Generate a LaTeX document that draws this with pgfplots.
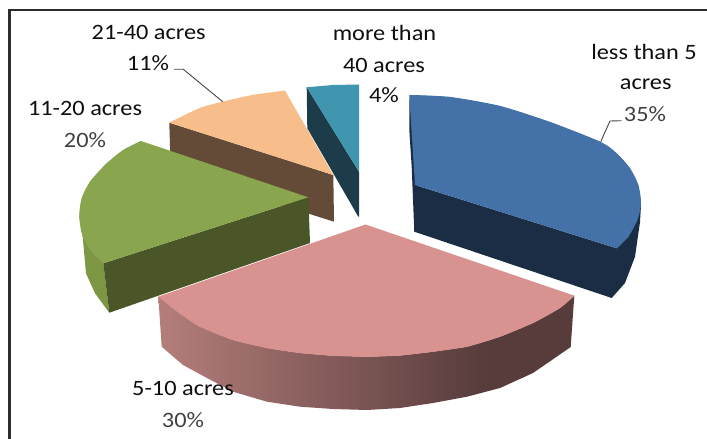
\documentclass[border=0pt]{standalone}
\usepackage{graphicx}
\usepackage{pgfplots}
\pgfplotsset{compat=1.18}
\usepackage{fontspec}
\setmainfont{Carlito}
\definecolor{bluetop}{RGB}{68,114,168}
\definecolor{bluedark}{RGB}{27,45,68}
\definecolor{pinktop}{RGB}{216,146,144}
\definecolor{greentop}{RGB}{137,165,78}
\definecolor{greenside}{RGB}{124,150,68}
\definecolor{greendark}{RGB}{74,85,40}
\definecolor{orangetop}{RGB}{247,190,139}
\definecolor{brownside}{RGB}{100,75,55}
\definecolor{tealtop}{RGB}{64,150,175}
\definecolor{tealdark}{RGB}{27,60,72}
\definecolor{txt}{RGB}{15,15,15}
\definecolor{txtl}{RGB}{65,65,65}
\definecolor{pinkL}{RGB}{180,126,123}
\definecolor{pinkR}{RGB}{88,60,60}
\pgfdeclarehorizontalshading{pinkside}{100bp}{
 color(0bp)=(pinkL);
 color(25bp)=(pinkL);
 color(64bp)=(pinkR);
 color(100bp)=(pinkR)}
\newcommand{\lab}[1]{\scalebox{1.11}[1]{#1}}
\begin{document}
\begin{tikzpicture}
\begin{axis}[
  scale only axis, width=707bp, height=439bp,
  xmin=0, xmax=707, ymin=0, ymax=439, y dir=reverse,
  axis lines=none, ticks=none,
  nodes={font=\fontsize{22}{22}\selectfont, text=txt, inner sep=0pt},
]
% background and frame
\addplot[fill=white, draw=none] coordinates {(0,0)(707,0)(707,439)(0,439)} \closedcycle;
\addplot[draw={rgb,255:red,45;green,45;blue,45}, line width=2.4bp] coordinates {(9.5,439)(9.5,10)(707,10)};
% 21-40 acres
\addplot[fill=brownside, draw=none] coordinates {(169.3,122.7)(333.3,175)(334,221.7)(170.7,170)} -- cycle;
\addplot[fill=orangetop, draw=none] coordinates {(169.3,122.7)(200,108)(223,101.7)(253,95)(285,90.7)(333.3,175)} -- cycle;
\addplot[fill=orangetop, draw=none, smooth] coordinates {(169.3,122.7)(200,108)(223,101.7)(253,95)(285,90.7)};
% more than 40 acres
\addplot[fill=tealdark, draw=none] coordinates {(306.7,87.3)(359,171.7)(359,216.7)(358.3,216.7)(307.3,128.3)} -- cycle;
\addplot[fill=tealtop, draw=none] coordinates {(306.7,87.3)(333,85)(359,84.5)(359,171.7)} -- cycle;
% 11-20 acres
\addplot[fill=greenside, draw=none] coordinates {(82.7,236.7)(103.3,263.3)(109.3,312.7)(95,293.3)(86,273.3)} -- cycle;
\addplot[fill=greendark, draw=none] coordinates {(103.3,263.3)(308.3,197.3)(310,243)(109.3,312.7)} -- cycle;
\addplot[fill=greentop, draw=none] coordinates {(141,141)(123.3,150)(106.7,163.3)(90,181.7)(81.7,198.3)(79.3,216.7)(82.7,236.7)(91.7,251.7)(103.3,263.3)(308.3,197.3)} -- cycle;
\addplot[fill=greentop, draw=none, smooth] coordinates {(141,141)(123.3,150)(106.7,163.3)(90,181.7)(81.7,198.3)(79.3,216.7)(82.7,236.7)(91.7,251.7)(103.3,263.3)};
% 5-10 acres
\addplot[shade, shading=pinkside, draw=none] coordinates {(158.3,296.7)(200,326.7)(233,340)(267,348)(300,353)(333,355.7)(367,356.7)(400,355.5)(433,351.7)(467,346.7)(500,336.7)(533,323)(560,308)(574.3,295.7)(570.7,347)(533,373)(500,388)(467,396.7)(433,403)(400,408)(367,410)(333,409)(300,406.7)(267,401.7)(233,391.7)(207,378)(183,365)(161.7,346.7)} -- cycle;
\addplot[fill=pinktop, draw=none] coordinates {(365.5,224.5)(158.3,296.7)(179,313)(200,326.7)(233,340)(267,348)(300,353)(333,355.7)(367,356.7)(400,355.5)(433,351.7)(467,346.7)(500,336.7)(533,323)(560,308)(574.3,295.7)} -- cycle;
\addplot[fill=pinktop, draw=none, smooth] coordinates {(158.3,296.7)(179,313)(200,326.7)(233,340)(267,348)(300,353)(333,355.7)(367,356.7)(400,355.5)(433,351.7)(467,346.7)(500,336.7)(533,323)(560,308)(574.3,295.7)};
% less than 5 acres
\addplot[fill=bluedark, draw=none] coordinates {(409.3,95)(409.3,130)(411.7,167)(414.3,231.7)(417,231)(417,185)} -- cycle;
\addplot[fill=bluedark, draw=none] coordinates {(415,185)(616.7,248.3)(641,205)(640,222)(635,256.7)(625,283)(611.7,298)(414.3,231.7)} -- cycle;
\addplot[fill=bluetop, draw=none] coordinates {(409.3,95)(450,97)(500,106)(550,122)(600,141.7)(616.7,153.3)(630,168.3)(638.3,185)(641,203.3)(637.3,220)(628.3,236.7)(616.7,248.3)(415,185)} -- cycle;
\addplot[fill=bluetop, draw=none, smooth] coordinates {(409.3,95)(450,97)(500,106)(550,122)(600,141.7)(616.7,153.3)(630,168.3)(638.3,185)(641,203.3)(637.3,220)(628.3,236.7)(616.7,248.3)};
% leader lines
\addplot[draw={rgb,255:red,70;green,70;blue,70}, line width=0.9bp] coordinates {(174,69.3)(183.3,69.3)(222.7,101.7)};
\addplot[draw={rgb,255:red,70;green,70;blue,70}, line width=0.9bp] coordinates {(621.7,120.7)(610,121)(600.7,141.7)};
% labels
\node at (axis cs:148.7,32) {\lab{21-40 acres}};
\node at (axis cs:148,63) {\lab{11\%}};
\node at (axis cs:85,108) {\lab{11-20 acres}};
\node[text=txtl] at (axis cs:85,140) {\lab{20\%}};
\node at (axis cs:384.5,33) {\lab{more than}};
\node at (axis cs:384,65) {\lab{40 acres}};
\node at (axis cs:384,95) {\lab{4\%}};
\node at (axis cs:644,52) {\lab{less than 5}};
\node at (axis cs:645.7,84) {\lab{acres}};
\node[text=txtl] at (axis cs:645,114) {\lab{35\%}};
\node at (axis cs:183,388) {\lab{5-10 acres}};
\node[text=txtl] at (axis cs:183,420) {\lab{30\%}};
\end{axis}
\end{tikzpicture}
\end{document}
